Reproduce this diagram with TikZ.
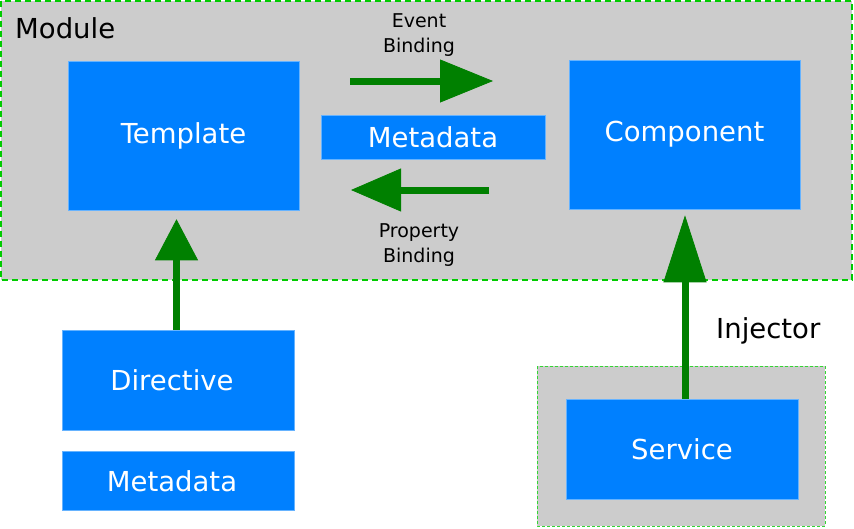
\documentclass[tikz,border=0pt]{standalone}
\usepackage{fontspec}
\setmainfont{DejaVu Sans}
\usetikzlibrary{positioning}
\usetikzlibrary{arrows.meta}
\definecolor{boxblue}{RGB}{0,128,255}
\definecolor{modgrey}{RGB}{204,204,204}
\definecolor{dashgreen}{RGB}{0,204,0}
\definecolor{arrowgreen}{RGB}{0,128,0}

\begin{document}
\begin{tikzpicture}[x=1pt,y=-1pt,
	part/.style={rectangle,fill=boxblue,draw=boxblue!60!white,line width=0.5pt,inner sep=0pt,text=white,font=\fontsize{27.5}{33}\selectfont},
	bind/.style={draw=arrowgreen,line width=7pt,-{Triangle[length=#1,width=43pt,line width=0.8pt,fill=arrowgreen]}},
	bind/.default=53pt,
	small label/.style={align=center,inner sep=0pt,font=\fontsize{19}{25}\selectfont},
	big label/.style={inner sep=0pt,anchor=base west,font=\fontsize{27.5}{33}\selectfont}]

	\useasboundingbox (0,0) rectangle (854,528);

	% module and injector areas
	\draw[fill=modgrey,draw=dashgreen,line width=2pt,dash pattern=on 6pt off 4pt] (1,1) rectangle (852,280);
	\draw[fill=modgrey,draw=dashgreen!80!white,line width=0.7pt,dash pattern=on 3pt off 2pt] (537,366) rectangle (825,526);
	\node[big label] (module) at (15,38) {Module};
	\node[big label] (injector) at (716,338) {Injector};

	\node[part,minimum width=231pt,minimum height=149pt] (template) at (183.5,135.5) {Template};
	\node[part,minimum width=231pt,minimum height=149pt] (component) at (684.5,134.5) {Component};
	\node[part,minimum width=224pt,minimum height=44pt] (meta) at (433,137) {Metadata};
	\node[part,minimum width=232pt,minimum height=100pt] (directive) at (178,380) {Directive\kern12pt};
	\node[part,minimum width=232pt,minimum height=59pt] (dirmeta) [below=21pt of directive] {Metadata\kern12pt};
	\node[part,minimum width=232pt,minimum height=100pt] (service) at (682,449) {Service};

	\node[small label] (event) at (419,35) {Event\\Binding};
	\node[small label] (property) at (419,245) {Property\\Binding};

	\coordinate (evfrom) at (350,81);
	\coordinate (evto) at (493,81);
	\coordinate (prfrom) at (489,190);
	\coordinate (prto) at (351,190);

	\path
	(evfrom)	edge[bind] (evto)
	(prfrom)	edge[bind=50pt] (prto)
	([xshift=-1.5pt]directive.north)	edge[bind=41pt,shorten >=9pt] ([xshift=-1.5pt]directive.north |- template.south)
	([xshift=3pt]service.north)	edge[bind=67pt,shorten >=6pt] ([xshift=3pt]service.north |- component.south);
\end{tikzpicture}
\end{document}
